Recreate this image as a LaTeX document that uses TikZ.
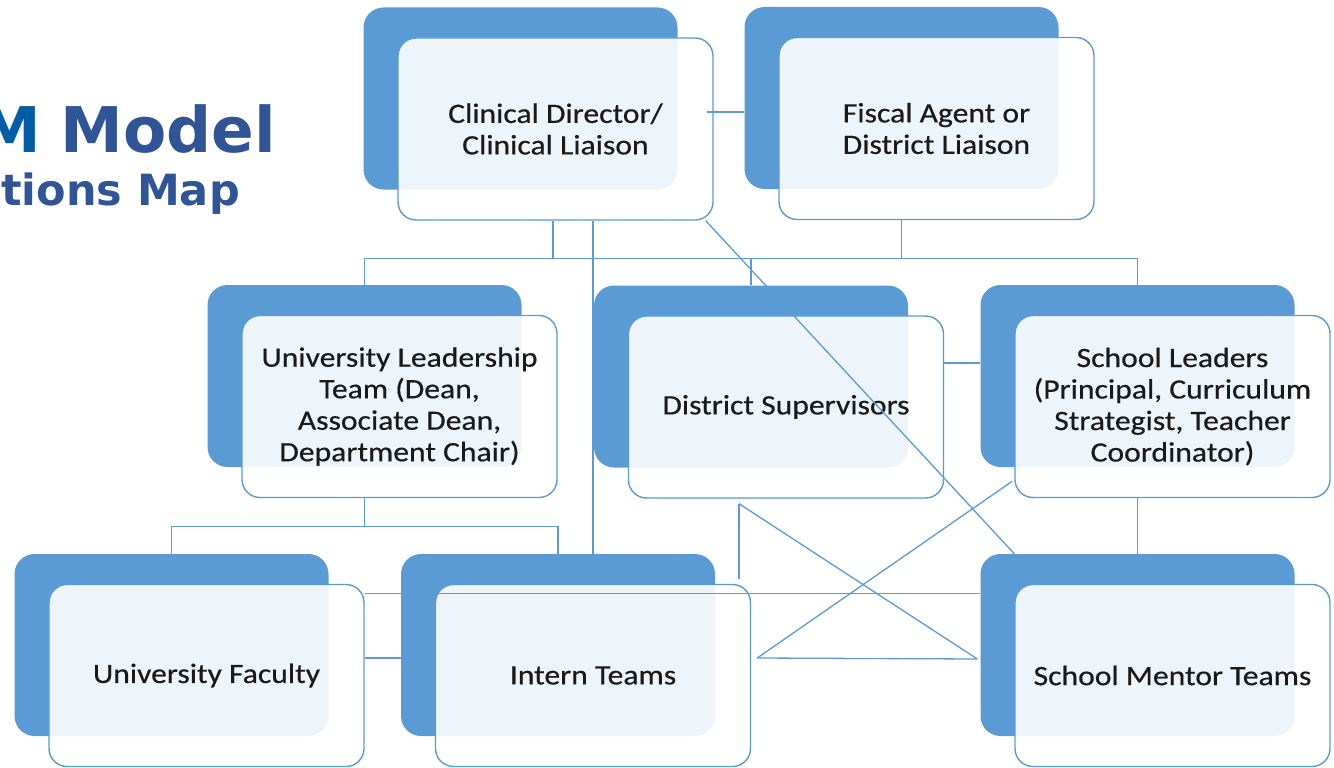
\documentclass[tikz,border=0pt]{standalone}
\usepackage{fontspec}
\usetikzlibrary{calc}
\newfontfamily\boxfont[FakeStretch=1.13,FakeBold=0.5]{Carlito}
\newfontfamily\titlefont{DejaVu Sans}
\definecolor{bk}{HTML}{5B9BD5}
\definecolor{ln}{HTML}{5B9BD5}
\definecolor{mblue}{HTML}{005DA6}
\definecolor{tblue}{HTML}{2F5597}
\definecolor{txt}{HTML}{1A1A1A}
\tikzset{
  backbox/.style={fill=bk, draw=none, rounded corners=20pt, minimum width=314pt, minimum height=182pt, inner sep=0pt},
  frontbox/.style={draw=bk, line width=1.4pt, fill=white, fill opacity=0.9, text opacity=1, rounded corners=18pt,
    minimum width=315pt, minimum height=182pt, inner sep=0pt, align=center, text=txt,
    font=\boxfont\fontsize{28}{31.5}\selectfont},
  conn/.style={draw=ln, line width=1.3pt},
  titletext/.style={font=\titlefont\bfseries, text=tblue, inner sep=0pt}
}
\newcommand{\twobox}[3]{%
  \node[backbox] (#1b) at ($(#2)+(-35,-30.5)$) {};
  \node[frontbox] (#1) at (#2) {#3};
}
\begin{document}
\begin{tikzpicture}[x=1pt,y=-1pt]
\useasboundingbox (0,0) rectangle (1334,768);
\clip (0,0) rectangle (1334,768);
% title
\node[titletext, anchor=base east, font=\titlefont\bfseries\fontsize{63}{70}\selectfont] (t1) at (276,152) {{\color{mblue}M}\hspace{-3pt} Model};
\node[titletext, anchor=base east, font=\titlefont\bfseries\fontsize{43}{50}\selectfont] (t2) at (240,205) {ntions Map};
% boxes
\twobox{cd}{555.5,129}{Clinical Director/\\Clinical Liaison}
\twobox{fa}{936.5,128.5}{Fiscal Agent or\\District Liaison}
\twobox{ul}{399.5,406.5}{University Leadership\\Team (Dean,\\Associate Dean,\\Department Chair)}
\twobox{ds}{786,407}{District Supervisors}
\twobox{sl}{1172.5,406.5}{School Leaders\\(Principal, Curriculum\\Strategist, Teacher\\Coordinator)}
\twobox{uf}{206.5,675.5}{University Faculty}
\twobox{it}{593,675.5}{Intern Teams}
\twobox{sm}{1172.5,675.5}{School Mentor Teams}
% connectors
% Clinical Director -- Fiscal Agent
\coordinate (h1) at ($(cd.east)+(-7,-17)$);
\draw[conn] (h1) -- (h1 -| fab.west);
% tree from Clinical Director
\coordinate (j1) at ($(cd.south)+(-2.5,38)$);
\draw[conn] ($(cd.south)+(-2.5,0)$) -- (j1);
\draw[conn] (j1) -| (ulb.north);
\draw[conn] (j1) -| (dsb.north);
\draw[conn] (j1) -| (slb.north);
% tree from Fiscal Agent
\coordinate (j2) at (fab.south |- j1);
\draw[conn] (fab.south |- fa.south) -- (j2) -| (dsb.north);
% Clinical Director -- Intern Teams
\draw[conn] (cd.south -| it.north) -- (itb.north -| it.north);
% Clinical Director -- School Mentor Teams
\draw[conn] ($(cd.south east)+(-8,0)$) -- (sm.west |- smb.north);
% District Supervisors -- School Leaders
\coordinate (h2) at ($(ds.east)+(0,-44)$);
\draw[conn] (h2) -- (h2 -| slb.west);
% tree from University Leadership
\coordinate (j3) at ($(ulb.south |- ul.south)+(0,28)$);
\draw[conn] (ulb.south |- ul.south) -- (j3);
\draw[conn] (j3) -| (ufb.north);
\draw[conn] (j3) -| (itb.north);
% School Leaders -- School Mentor Teams
\draw[conn] (slb.south |- sl.south) -- (smb.north);
% University Faculty -- School Mentor Teams
\coordinate (h3) at ($(uf.north east)+(0,10)$);
\draw[conn] (h3) -- (h3 -| smb.west);
% University Faculty -- Intern Teams
\coordinate (h4) at ($(uf.east)+(0,-17.5)$);
\draw[conn] (h4) -- (h4 -| itb.west);
% District Supervisors -- Intern Teams / School Mentor Teams
\coordinate (d1) at ($(ds.south)+(-47,5)$);
\coordinate (d2) at ($(it.north)+(0,-5)$);
\draw[conn] (d1) -- (d1 |- d2);
\coordinate (m1) at ($(smb.west)+(-3,14)$);
\draw[conn] (d1) -- (m1);
% Intern Teams -- School Mentor Teams
\coordinate (i1) at ($(it.east)+(6,-17.5)$);
\draw[conn] (i1) -- (m1);
% School Leaders -- Intern Teams
\coordinate (s1) at ($(sl.south west)+(-2,-17)$);
\draw[conn] (s1) -- (i1);
\end{tikzpicture}
\end{document}
